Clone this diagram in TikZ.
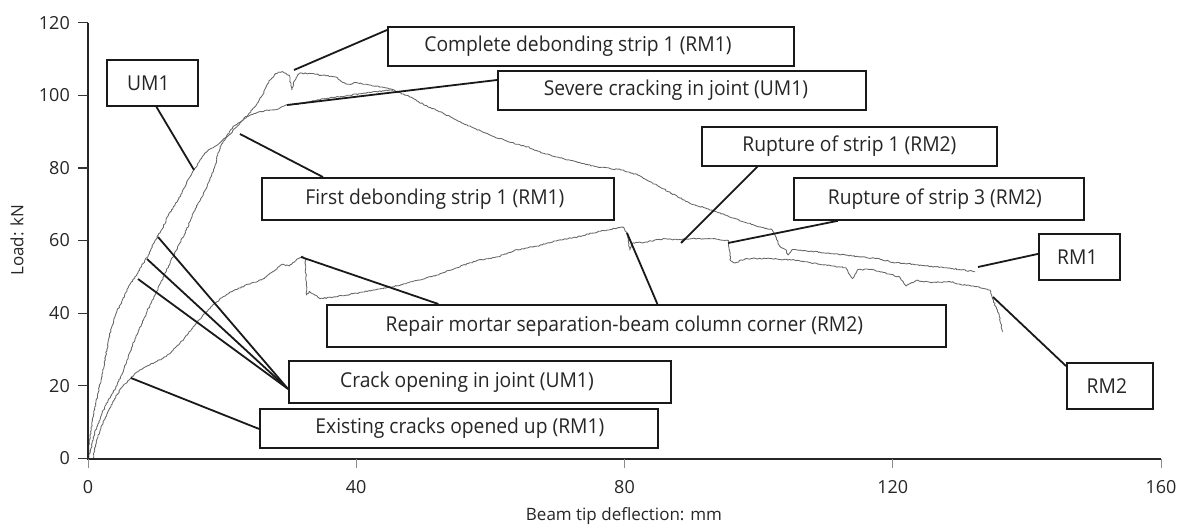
\documentclass[tikz,border=0pt]{standalone}
\usepackage{fontspec}
\usepackage{graphicx}
\setmainfont{Open Sans}
\usetikzlibrary{decorations.pathmorphing}

% boxed annotation: name, left, top, right, bottom, text offset, text
\newcommand\notebox[7]{%
  \node[note, minimum width={#4-#2}, minimum height={#5-#3}] (#1) at (#2,#3) {};
  \node[notetext] (#1-t) at ([xshift=#6pt]#1.center) {\scalebox{0.94}[1]{#7}};}

\begin{document}
\begin{tikzpicture}[x=1pt, y=-1pt,
  axisline/.style={line width=2pt, black!85},
  ytick/.style={line width=1.2pt, black!80},
  xtick/.style={line width=1pt, black!45},
  ticklabel/.style={font=\fontsize{18}{20}\selectfont, text=black!85, inner sep=0pt},
  axistitle/.style={font=\fontsize{17}{19}\selectfont, text=black!85, inner sep=0pt},
  curve/.style={draw=black!60, line width=0.85pt, line join=round,
    decorate, decoration={random steps, segment length=1.6pt, amplitude=0.6pt}},
  note/.style={draw=black!90, line width=1.8pt, fill=white, inner sep=0pt,
    anchor=north west},
  notetext/.style={font=\fontsize{20.5}{24}\selectfont, text=black!85, inner sep=0pt},
  leader/.style={line width=1.8pt, black!90}]
\useasboundingbox (0,0) rectangle (1187,528);
\pgfmathsetseed{11}

% measured curves (deflection in mm, load in kN)
\begin{scope}[shift={(88pt,-458.5pt)}, x=6.706pt, y=3.633pt]
  \draw[curve] (0,0) -- (0.3,6) -- (0.8,12) -- (1.5,18) -- (2.2,24) -- (3,32) -- (3.5,36)
    -- (4.2,40) -- (5,43) -- (6,47) -- (7,50) -- (8,53) -- (9,56) -- (10,60) -- (11,63)
    -- (12,67) -- (13,70) -- (14,73) -- (15,77) -- (16,80) -- (17,83) -- (18,85) -- (19,86)
    -- (20,87.5) -- (21,89) -- (22,91) -- (23,93) -- (24,95) -- (25,97) -- (26,100)
    -- (27,104) -- (28,106) -- (29,106.5) -- (30,105.5) -- (30.4,101.5) -- (30.8,104)
    -- (31.5,106) -- (33,106) -- (35,105.5) -- (37,105) -- (38,103.5) -- (39,103)
    -- (40,103.5) -- (41,103) -- (43,102.5) -- (45.5,101.5) -- (48,99.5) -- (50,97.5)
    -- (53,95) -- (55.9,92.3) -- (60,89) -- (63,87) -- (65.5,85.8) -- (68,84) -- (70,83)
    -- (73,81.5) -- (75.9,80.3) -- (79.8,79.4) -- (82,78) -- (85,75) -- (87,73)
    -- (89.8,70.2) -- (92,69) -- (95,67) -- (98,65) -- (100.2,63.8) -- (102,63)
    -- (103.2,58.3) -- (104,57.5) -- (104.4,56) -- (105,57.5) -- (108,57) -- (110,56.5)
    -- (113,56) -- (115,55.5) -- (118,55) -- (120,54) -- (123,53.5) -- (125,53)
    -- (128,52.5) -- (130,52) -- (132.3,51.4);
  \draw[curve] (0,0) -- (0.5,3) -- (1,7) -- (2,12) -- (3,16) -- (4.3,20) -- (5,23) -- (6,28)
    -- (7,33) -- (8,37) -- (8.7,40) -- (10,45) -- (11,49) -- (12,53) -- (13.2,57.4)
    -- (14.7,63) -- (15.7,67.6) -- (17,72) -- (18.2,76.7) -- (19,81) -- (19.7,85.8)
    -- (20.5,88) -- (21.6,91.3) -- (22.6,92.5) -- (23.7,94.1) -- (25,95) -- (26.7,95.9)
    -- (28,96) -- (29.7,97.3) -- (31,97.5) -- (33,98.2) -- (35,99) -- (37,99.5)
    -- (39,100) -- (41,100.5) -- (43,101) -- (45.5,101.5);
  \draw[curve] (0.8,0) -- (1,3) -- (1.5,6) -- (2,9) -- (3,13) -- (4,16.5) -- (5,19.5)
    -- (6.4,22.2) -- (7.5,24) -- (8.7,25.3) -- (10,26.5) -- (11.2,27.6) -- (12.5,29.5)
    -- (13.7,31.7) -- (15,34.5) -- (15.7,36.3) -- (17,39) -- (18.5,42) -- (20.1,44.5)
    -- (22,46.5) -- (24,48) -- (25,48.5) -- (26.6,50) -- (28,52) -- (29,53.5) -- (30,53)
    -- (31,54.5) -- (32,55.7) -- (32.4,55) -- (32.6,45) -- (33,46) -- (34.6,44)
    -- (37,44.5) -- (40,45.5) -- (43,46.5) -- (46,47.5) -- (49,49) -- (52,50.5)
    -- (55,52.5) -- (58,54.5) -- (61,55.5) -- (64,57.5) -- (67,58.5) -- (70,60)
    -- (73,61) -- (75,62) -- (77.4,62.9) -- (79.8,63.7) -- (80.4,62) -- (80.8,57.4)
    -- (81.3,59.4) -- (83,59.5) -- (86,60.5) -- (88,60.2) -- (90,60.5) -- (93,60.5)
    -- (95,60) -- (95.5,60) -- (95.8,54.5) -- (96.5,53.8) -- (98,55) -- (102,55)
    -- (106,54.5) -- (109,53.5) -- (111,53) -- (113,52.5) -- (114,49.5) -- (114.8,52)
    -- (117,52) -- (119,51) -- (121,50) -- (122,47.5) -- (123.5,49) -- (126,48.5)
    -- (128.5,48.7) -- (130,48) -- (132,47.5) -- (134.5,46.4) -- (135.3,42)
    -- (135.8,40) -- (136.4,34.9);
\end{scope}

% axes
\coordinate (o) at (88,458.5);
\coordinate (ytop) at (88,22.5);
\coordinate (xend) at (1161,458.5);
\draw[axisline] (ytop) -- (o) -- (xend);
\foreach \v/\y in {0/458.5, 20/385.8, 40/313.2, 60/240.5, 80/167.9, 100/95.2, 120/22.6} {
  \draw[ytick] (78,\y) -- (88,\y);
  \node[ticklabel, anchor=east] (ylab\v) at (70,\y) {\v};
}
\foreach \v/\x in {0/88, 40/356.2, 80/624.5, 120/892.7, 160/1161} {
  \draw[xtick] (\x,459) -- (\x,468);
  \node[ticklabel] (xlab\v) at (\x,487) {\v};
}
\node[axistitle] (xtitle) at (624,516) {Beam tip deflection: mm};
\node[axistitle, rotate=90] (ytitle) at (17,240) {Load: kN};

% points on the curves that the annotations refer to
\coordinate (c-um1) at (194,170);
\coordinate (c-complete) at (294,70);
\coordinate (c-severe) at (287,105);
\coordinate (c-first) at (240,134);
\coordinate (c-rupt1) at (681,243);
\coordinate (c-rupt3) at (728,243);
\coordinate (c-rm1) at (978,267);
\coordinate (c-rm2) at (993,297);
\coordinate (c-repa) at (301,257);
\coordinate (c-repb) at (627,233);
\coordinate (c-crack1) at (158,237);
\coordinate (c-crack2) at (147,259);
\coordinate (c-crack3) at (138,279);
\coordinate (c-exist) at (131,378);

% annotation boxes
\notebox{um1}{106}{59}{197}{105}{-4}{UM1}
\notebox{complete}{387}{26}{793}{65}{-13}{Complete debonding strip 1 (RM1)}
\notebox{severe}{497}{70}{865}{109}{-6}{Severe cracking in joint (UM1)}
\notebox{first}{261}{177}{613}{219}{-3}{First debonding strip 1 (RM1)}
\notebox{rupt1}{701}{126}{996}{165}{0}{Rupture of strip 1 (RM2)}
\notebox{rupt3}{793}{177}{1083}{219}{-4}{Rupture of strip 3 (RM2)}
\notebox{rm1}{1038}{233}{1119}{279}{-2}{RM1}
\notebox{rm2}{1066}{362}{1152}{408}{-3}{RM2}
\notebox{repair}{326}{304}{945}{346}{-12}{Repair mortar separation-beam column corner (RM2)}
\notebox{crack}{288}{360}{670}{402}{-13}{Crack opening in joint (UM1)}
\notebox{exist}{259}{408}{657}{447}{1}{Existing cracks opened up (RM1)}

% leader lines
\draw[leader] ([xshift=4pt]um1.south) -- (c-um1);
\draw[leader] ([yshift=-4pt]complete.north west) -- (c-complete);
\draw[leader] ([yshift=-10pt]severe.north west) -- (c-severe);
\draw[leader] ([xshift=-115pt]first.north) -- (c-first);
\draw[leader] ([xshift=-92pt]rupt1.south) -- (c-rupt1);
\draw[leader] ([xshift=-101pt]rupt3.south) -- (c-rupt3);
\draw[leader] ([yshift=3pt]rm1.west) -- (c-rm1);
\draw[leader] ([yshift=-4pt]rm2.north west) -- (c-rm2);
\draw[leader] ([xshift=-198pt]repair.north) -- (c-repa);
\draw[leader] ([xshift=21pt]repair.north) -- (c-repb);
\foreach \k in {1,2,3}
  \draw[leader] ([yshift=-7pt]crack.west) -- (c-crack\k);
\draw[leader] ([yshift=-0.5pt]exist.west) -- (c-exist);
\end{tikzpicture}
\end{document}
